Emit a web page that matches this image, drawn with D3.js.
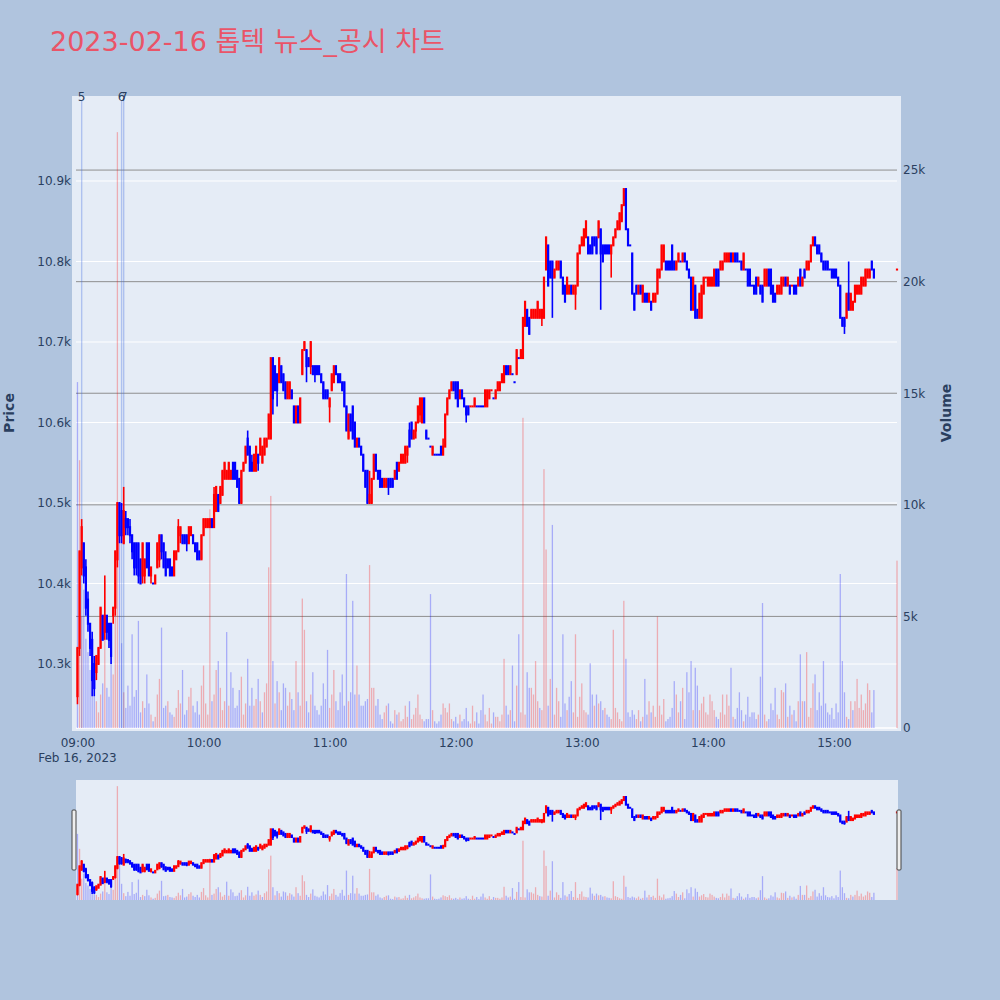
<!DOCTYPE html>
<html><head><meta charset="utf-8">
<script src="https://cdn.jsdelivr.net/npm/d3@7"></script>
<style>body{margin:0;background:#b0c4de;}svg{display:block}</style>
</head><body><svg id="c" width="1000" height="1000"></svg>
<script>
// ---------------- DATA ----------------
const chartTitle = "2023-02-16 톱텍 뉴스_공시 차트";
const times = [
"09:00","09:01","09:02","09:03","09:04","09:05","09:06","09:07","09:08","09:09","09:10","09:11","09:12","09:13","09:14","09:15","09:16","09:17","09:18","09:19",
"09:20","09:21","09:22","09:23","09:24","09:25","09:26","09:27","09:28","09:29","09:30","09:31","09:32","09:33","09:34","09:35","09:36","09:37","09:38","09:39",
"09:40","09:41","09:42","09:43","09:44","09:45","09:46","09:47","09:48","09:49","09:50","09:51","09:52","09:53","09:54","09:55","09:56","09:57","09:58","09:59",
"10:00","10:01","10:02","10:03","10:04","10:05","10:06","10:07","10:08","10:09","10:10","10:11","10:12","10:13","10:14","10:15","10:16","10:17","10:18","10:19",
"10:20","10:21","10:22","10:23","10:24","10:25","10:26","10:27","10:28","10:29","10:30","10:31","10:32","10:33","10:34","10:35","10:36","10:37","10:38","10:39",
"10:40","10:41","10:42","10:43","10:44","10:45","10:46","10:47","10:48","10:49","10:50","10:51","10:52","10:53","10:54","10:55","10:56","10:57","10:58","10:59",
"11:00","11:01","11:02","11:03","11:04","11:05","11:06","11:07","11:08","11:09","11:10","11:11","11:12","11:13","11:14","11:15","11:16","11:17","11:18","11:19",
"11:20","11:21","11:22","11:23","11:24","11:25","11:26","11:27","11:28","11:29","11:30","11:31","11:32","11:33","11:34","11:35","11:36","11:37","11:38","11:39",
"11:40","11:41","11:42","11:43","11:44","11:45","11:46","11:47","11:48","11:49","11:50","11:51","11:52","11:53","11:54","11:55","11:56","11:57","11:58","11:59",
"12:00","12:01","12:02","12:03","12:04","12:05","12:06","12:07","12:08","12:09","12:10","12:11","12:12","12:13","12:14","12:15","12:16","12:17","12:18","12:19",
"12:20","12:21","12:22","12:23","12:24","12:25","12:26","12:27","12:28","12:29","12:30","12:31","12:32","12:33","12:34","12:35","12:36","12:37","12:38","12:39",
"12:40","12:41","12:42","12:43","12:44","12:45","12:46","12:47","12:48","12:49","12:50","12:51","12:52","12:53","12:54","12:55","12:56","12:57","12:58","12:59",
"13:00","13:01","13:02","13:03","13:04","13:05","13:06","13:07","13:08","13:09","13:10","13:11","13:12","13:13","13:14","13:15","13:16","13:17","13:18","13:19",
"13:20","13:21","13:22","13:23","13:24","13:25","13:26","13:27","13:28","13:29","13:30","13:31","13:32","13:33","13:34","13:35","13:36","13:37","13:38","13:39",
"13:40","13:41","13:42","13:43","13:44","13:45","13:46","13:47","13:48","13:49","13:50","13:51","13:52","13:53","13:54","13:55","13:56","13:57","13:58","13:59",
"14:00","14:01","14:02","14:03","14:04","14:05","14:06","14:07","14:08","14:09","14:10","14:11","14:12","14:13","14:14","14:15","14:16","14:17","14:18","14:19",
"14:20","14:21","14:22","14:23","14:24","14:25","14:26","14:27","14:28","14:29","14:30","14:31","14:32","14:33","14:34","14:35","14:36","14:37","14:38","14:39",
"14:40","14:41","14:42","14:43","14:44","14:45","14:46","14:47","14:48","14:49","14:50","14:51","14:52","14:53","14:54","14:55","14:56","14:57","14:58","14:59",
"15:00","15:01","15:02","15:03","15:04","15:05","15:06","15:07","15:08","15:09","15:10","15:11","15:12","15:13","15:14","15:15","15:16","15:17","15:18","15:19",
"15:30"];
const open = [
10260,10320,10420,10450,10420,10380,10350,10330,10300,10290,10300,10320,10360,10340,10360,10350,10350,10360,10370,10430,
10500,10490,10450,10480,10480,10470,10460,10450,10450,10450,10430,10410,10410,10450,10450,10410,10400,10400,10420,10430,
10460,10450,10430,10430,10430,10420,10410,10430,10440,10460,10460,10460,10460,10450,10460,10460,10450,10450,10440,10430,
10460,10470,10470,10470,10480,10470,10490,10510,10500,10510,10530,10530,10530,10530,10550,10550,10540,10530,10500,10540,
10550,10580,10570,10550,10540,10540,10560,10560,10550,10560,10570,10580,10580,10680,10670,10660,10650,10670,10660,10650,
10630,10630,10640,10620,10600,10620,10600,10660,10690,10690,10680,10670,10670,10670,10670,10670,10660,10650,10640,10640,
10620,10640,10650,10670,10660,10660,10650,10650,10620,10580,10610,10620,10600,10570,10580,10570,10560,10540,10540,10500,
10500,10530,10560,10540,10540,10530,10520,10520,10530,10530,10530,10530,10550,10540,10550,10550,10550,10560,10590,10600,
10580,10590,10600,10610,10600,10630,10590,10580,10570,10560,10560,10560,10560,10570,10560,10570,10610,10630,10640,10650,
10650,10650,10630,10640,10630,10620,10620,10620,10620,10620,10620,10620,10620,10620,10620,10620,10630,10640,10630,10630,
10640,10640,10650,10650,10670,10670,10660,10660,10650,10660,10680,10680,10680,10720,10740,10730,10730,10730,10730,10730,
10730,10730,10730,10790,10820,10800,10800,10780,10790,10790,10800,10780,10770,10760,10760,10770,10760,10760,10770,10810,
10820,10820,10830,10830,10820,10830,10830,10830,10830,10840,10820,10820,10820,10820,10810,10820,10830,10840,10840,10850,
10870,10890,10840,10820,10810,10760,10770,10760,10770,10750,10760,10760,10750,10750,10750,10750,10760,10780,10790,10800,
10800,10800,10800,10820,10800,10790,10800,10800,10800,10810,10800,10790,10780,10740,10770,10740,10730,10730,10760,10780,
10770,10770,10770,10770,10790,10790,10790,10790,10800,10800,10800,10810,10800,10810,10810,10800,10800,10790,10790,10790,
10790,10770,10770,10780,10770,10770,10770,10770,10770,10790,10790,10770,10760,10760,10760,10760,10770,10780,10770,10770,
10770,10770,10770,10770,10790,10770,10790,10790,10790,10800,10820,10830,10820,10820,10810,10800,10800,10800,10790,10790,
10790,10790,10780,10770,10730,10730,10730,10760,10740,10740,10750,10760,10760,10760,10770,10770,10780,10780,10800,10790,
10790];
const high = [
10320,10440,10480,10450,10430,10390,10350,10340,10310,10310,10320,10370,10360,10410,10360,10350,10350,10370,10440,10500,
10500,10500,10520,10490,10480,10480,10460,10450,10450,10450,10430,10450,10430,10450,10450,10420,10400,10410,10450,10460,
10460,10450,10440,10430,10430,10420,10440,10440,10480,10470,10460,10460,10460,10470,10470,10460,10450,10450,10440,10460,
10480,10480,10480,10480,10480,10520,10520,10510,10520,10540,10550,10540,10550,10540,10550,10550,10540,10530,10540,10550,
10570,10590,10570,10560,10560,10570,10560,10580,10570,10580,10580,10610,10680,10680,10670,10660,10680,10670,10660,10650,
10650,10650,10640,10620,10620,10620,10630,10690,10700,10690,10680,10700,10670,10670,10670,10670,10660,10650,10640,10640,
10630,10660,10670,10670,10660,10660,10650,10650,10620,10610,10610,10620,10600,10580,10580,10570,10560,10540,10540,10540,
10530,10560,10560,10540,10540,10530,10530,10530,10530,10530,10530,10540,10550,10550,10560,10560,10570,10570,10600,10600,
10590,10600,10620,10630,10630,10630,10590,10580,10570,10570,10560,10560,10560,10570,10580,10610,10630,10640,10650,10650,
10650,10650,10640,10640,10630,10620,10620,10620,10620,10630,10620,10620,10620,10620,10640,10640,10640,10640,10630,10640,
10650,10650,10660,10670,10670,10670,10670,10660,10650,10690,10680,10690,10730,10750,10740,10730,10740,10740,10740,10750,
10740,10740,10780,10830,10820,10800,10800,10790,10800,10800,10800,10780,10770,10780,10770,10770,10770,10770,10810,10820,
10830,10840,10850,10830,10820,10830,10830,10830,10850,10840,10820,10820,10820,10820,10820,10830,10840,10850,10860,10870,
10890,10890,10840,10820,10810,10760,10770,10770,10770,10770,10760,10760,10760,10750,10760,10760,10790,10790,10820,10820,
10800,10800,10800,10820,10800,10800,10810,10800,10810,10810,10800,10790,10780,10780,10770,10740,10760,10770,10780,10780,
10780,10780,10780,10790,10790,10790,10800,10800,10810,10810,10810,10810,10810,10810,10810,10800,10800,10810,10790,10790,
10790,10770,10770,10780,10780,10770,10770,10790,10790,10790,10790,10770,10760,10770,10770,10780,10780,10780,10780,10770,
10770,10770,10770,10780,10790,10780,10790,10800,10800,10820,10830,10830,10820,10820,10810,10800,10800,10800,10790,10790,
10790,10790,10780,10770,10730,10730,10760,10800,10760,10750,10770,10770,10770,10780,10780,10790,10790,10790,10800,10790,
10790];
const low = [
10250,10310,10410,10400,10360,10340,10310,10260,10260,10280,10300,10320,10330,10330,10330,10320,10300,10350,10360,10420,
10450,10450,10450,10460,10460,10450,10430,10410,10410,10400,10400,10400,10400,10420,10410,10400,10400,10400,10420,10420,
10430,10420,10410,10420,10410,10410,10410,10430,10440,10450,10450,10450,10440,10450,10460,10450,10440,10430,10430,10430,
10460,10470,10470,10470,10470,10470,10490,10490,10500,10510,10530,10530,10530,10530,10530,10530,10520,10500,10500,10540,
10550,10560,10540,10540,10540,10540,10540,10560,10550,10560,10570,10580,10580,10610,10640,10620,10650,10650,10640,10630,
10630,10630,10630,10600,10600,10600,10600,10660,10690,10650,10670,10660,10660,10650,10660,10660,10650,10630,10630,10630,
10600,10640,10650,10660,10650,10650,10640,10620,10590,10580,10590,10580,10570,10570,10570,10560,10540,10520,10500,10500,
10500,10530,10540,10530,10520,10520,10520,10520,10510,10520,10520,10530,10530,10540,10550,10550,10550,10550,10570,10580,
10580,10580,10600,10600,10600,10600,10580,10580,10570,10560,10560,10560,10560,10560,10560,10570,10610,10630,10640,10640,
10630,10620,10630,10630,10620,10600,10610,10620,10620,10620,10620,10620,10620,10620,10620,10620,10630,10640,10630,10630,
10640,10640,10650,10650,10660,10660,10660,10660,10650,10660,10680,10680,10680,10720,10720,10710,10730,10730,10730,10730,
10730,10720,10730,10790,10770,10780,10730,10780,10790,10790,10780,10760,10750,10760,10760,10760,10760,10740,10770,10810,
10820,10820,10830,10810,10810,10810,10820,10810,10830,10740,10800,10810,10810,10810,10780,10820,10830,10840,10840,10850,
10870,10840,10820,10820,10760,10740,10760,10760,10760,10750,10750,10750,10750,10740,10750,10750,10760,10780,10790,10800,
10790,10790,10790,10790,10790,10790,10800,10800,10800,10800,10790,10780,10740,10740,10730,10730,10730,10730,10760,10780,
10770,10770,10770,10770,10770,10770,10790,10790,10800,10800,10800,10800,10800,10800,10800,10800,10790,10790,10790,10770,
10770,10770,10760,10760,10770,10760,10750,10770,10770,10770,10760,10750,10750,10760,10760,10760,10770,10770,10770,10760,
10770,10760,10760,10770,10770,10770,10780,10790,10790,10800,10820,10820,10810,10810,10800,10790,10790,10790,10790,10780,
10780,10780,10770,10730,10720,10710,10730,10740,10740,10740,10750,10760,10760,10760,10770,10770,10780,10780,10790,10780,
10790];
const close = [
10320,10440,10470,10410,10370,10350,10320,10280,10270,10310,10320,10370,10330,10360,10340,10330,10310,10370,10440,10500,
10460,10460,10490,10470,10470,10460,10440,10420,10420,10410,10400,10450,10430,10420,10410,10420,10400,10410,10450,10460,
10440,10420,10410,10420,10410,10410,10440,10440,10470,10470,10450,10450,10450,10470,10470,10450,10440,10430,10430,10460,
10480,10480,10480,10480,10470,10510,10520,10490,10520,10540,10550,10540,10550,10540,10530,10530,10520,10500,10540,10550,
10570,10560,10540,10540,10560,10570,10550,10580,10570,10580,10580,10610,10680,10630,10640,10640,10680,10650,10640,10630,
10650,10650,10630,10600,10620,10600,10630,10690,10700,10670,10670,10700,10660,10660,10660,10660,10650,10630,10630,10630,
10630,10660,10670,10660,10650,10650,10640,10620,10590,10610,10590,10580,10570,10580,10570,10560,10540,10520,10500,10510,
10530,10560,10540,10530,10520,10520,10530,10530,10520,10520,10520,10540,10530,10550,10560,10560,10570,10570,10570,10580,
10590,10600,10620,10630,10630,10600,10580,10580,10570,10570,10560,10560,10560,10560,10570,10610,10630,10640,10650,10640,
10630,10620,10640,10630,10620,10610,10610,10620,10620,10630,10620,10620,10620,10620,10640,10640,10640,10640,10630,10640,
10650,10650,10660,10670,10660,10660,10670,10660,10650,10690,10680,10690,10730,10750,10720,10710,10740,10740,10740,10750,
10740,10740,10780,10830,10770,10780,10780,10790,10800,10800,10780,10760,10750,10780,10770,10760,10770,10770,10810,10820,
10830,10840,10850,10810,10810,10810,10820,10810,10850,10810,10800,10810,10810,10810,10820,10830,10840,10850,10860,10870,
10890,10840,10820,10820,10760,10740,10760,10770,10760,10770,10750,10750,10760,10740,10760,10760,10790,10790,10820,10820,
10790,10790,10790,10790,10790,10800,10810,10800,10810,10800,10790,10780,10740,10780,10730,10730,10760,10770,10780,10780,
10780,10780,10780,10790,10770,10770,10800,10800,10810,10810,10810,10800,10810,10800,10800,10800,10790,10810,10790,10770,
10770,10770,10760,10760,10780,10760,10750,10790,10790,10770,10760,10750,10750,10770,10770,10780,10780,10770,10780,10760,
10770,10760,10760,10780,10770,10780,10780,10800,10800,10820,10830,10820,10810,10810,10800,10790,10790,10790,10790,10780,
10780,10780,10770,10730,10720,10720,10760,10740,10760,10750,10770,10770,10770,10780,10780,10790,10790,10790,10790,10780,
10790];
const volume = [
15500,12000,5000,6200,4000,3400,2600,3000,2400,1200,700,1500,2000,6600,1800,1400,4700,2400,6000,26700,
9000,3800,1600,900,1900,1000,4200,1400,1700,4800,700,1200,900,2400,1100,600,300,500,1500,2200,
4500,900,1000,1200,700,600,500,900,1700,1100,2600,600,800,1400,1800,1000,700,1200,600,1900,
2800,1100,600,9800,1200,1500,2600,3000,1800,800,1200,4300,1000,2500,1800,900,1000,1700,2300,600,
1100,3100,1000,1800,1000,1300,2200,1200,700,1600,2000,7200,10400,3000,1100,2100,1600,800,2000,1800,
1000,1600,1300,800,3000,1600,1000,5800,4400,1200,700,1500,2500,1000,800,600,1000,2000,1300,3500,
900,1500,2600,1200,800,1600,2400,1000,6900,1200,1600,5700,1500,2800,1500,1000,1000,1200,1300,7300,
1800,1800,1000,1300,600,400,700,1000,1100,300,200,800,600,700,300,400,1000,500,1200,400,
600,900,1500,600,400,300,400,400,6000,800,300,200,300,600,1100,900,700,1100,400,300,
500,200,600,300,400,900,300,200,1000,300,700,200,800,1500,600,300,900,200,700,500,
500,300,600,3100,1000,600,800,2800,300,1900,4200,700,13900,600,2500,1800,1800,1500,3000,1200,
900,800,11600,8000,1000,2200,9100,600,1800,1200,500,4200,1100,800,1400,2100,700,4200,500,1400,
2000,800,700,600,2900,1500,1000,1500,1100,1200,800,900,600,500,400,4400,900,700,400,300,
5700,3100,700,500,800,600,400,800,300,500,2200,600,1200,700,1000,500,5000,1000,600,1300,
300,400,500,900,2100,1500,700,1200,1800,400,2500,1600,3000,800,2700,1900,800,1100,1400,700,
600,1500,1200,800,500,400,700,1500,600,1500,1000,2700,500,400,900,1600,800,300,600,1400,
500,700,700,400,600,2300,5600,600,300,400,1100,800,1800,600,400,1700,1600,2000,500,1000,
600,800,300,1200,3300,1200,1200,3400,500,900,2000,2400,800,1600,1000,3000,1100,700,600,900,
400,1100,700,6900,3000,1600,500,400,1200,800,1200,2200,900,1500,800,1100,2000,1700,700,1700,
7500];
const newsTimes = ["09:02","09:21","09:22"];
const newsLabels = ["5","6","7"];
const priceTicks = [10300,10400,10500,10600,10700,10800,10900];
const volumeTicks = [0,5000,10000,15000,20000,25000];
const timeTicks = ["09:00","10:00","11:00","12:00","13:00","14:00","15:00"];
const dateLabel = "Feb 16, 2023";
const priceRange = [10220.5, 11000.6];
const volumeRange = [0, 28140];
const timeRange = ["08:59:18","15:30:00"];

// ---------------- DRAW ----------------
const FONT = "'DejaVu Sans','Noto Sans CJK KR',sans-serif";
const UP = "#ff0000", DOWN = "#0000ff";
const parseT = s => { const p = s.split(":").map(Number); return new Date(2023,1,16,p[0],p[1],p[2]||0); };
const svg = d3.select("#c");
svg.append("rect").attr("width",1000).attr("height",1000).attr("fill","#b0c4de");

const rows = times.map((t,i)=>({t:parseT(t),o:open[i],h:high[i],l:low[i],c:close[i],v:volume[i]}));
// plotly-style direction (ties use previous close)
let cPrev=null, dirPrev=false;
rows.forEach(d=>{
  let up;
  if(d.o===d.c){ if(cPrev!==null && d.c>cPrev) up=true; else if(cPrev!==null && d.c<cPrev) up=false; else up=dirPrev; }
  else up = d.c>d.o;
  d.up=up; dirPrev=up; cPrev=d.c;
});
rows.forEach((d,i)=>{
  if(i===0) d.vup=false;
  else { const pc=rows[i-1].c; d.vup = d.c>pc ? true : (d.c<pc ? false : d.up); }
});

const L=76, R=897, T=100, B=728;
const x = d3.scaleTime().domain(timeRange.map(parseT)).range([L,R]);
const yP = d3.scaleLinear().domain(priceRange).range([B,T]);
const yV = d3.scaleLinear().domain(volumeRange).range([B,T]);

// title
svg.append("text").attr("x",50).attr("y",50.5).attr("font-family",FONT).attr("font-size",27)
  .attr("fill","#ea5468").text(chartTitle);

// plot background
svg.append("rect").attr("x",72).attr("y",96).attr("width",829).attr("height",635).attr("fill","#e5ecf6");
svg.append("defs").append("clipPath").attr("id","clip").append("rect")
  .attr("x",72).attr("y",96).attr("width",829).attr("height",635);

const g = svg.append("g").attr("clip-path","url(#clip)");
g.selectAll(".pg").data(priceTicks).join("line").attr("x1",L).attr("x2",R)
  .attr("y1",d=>yP(d)).attr("y2",d=>yP(d)).attr("stroke","#fff").attr("stroke-width",1);
g.selectAll(".vg").data(volumeTicks.filter(v=>v>0)).join("line").attr("x1",L).attr("x2",R)
  .attr("y1",d=>yV(d)).attr("y2",d=>yV(d)).attr("stroke","#8f8f8f").attr("stroke-width",1);
g.append("line").attr("x1",L).attr("x2",R).attr("y1",yV(0)).attr("y2",yV(0)).attr("stroke","#fff").attr("stroke-width",1.5);

function drawVolume(grp, ys, bw){
  grp.selectAll(null).data(rows).join("rect")
    .attr("x",d=>x(d.t)-bw/2).attr("width",bw)
    .attr("y",d=>ys(d.v)).attr("height",d=>ys(0)-ys(d.v))
    .attr("fill",d=>d.vup?UP:DOWN).attr("fill-opacity",0.27);
}
function drawCandles(grp, ys, bodyW, wickW){
  const cg = grp.selectAll(null).data(rows).join("g").attr("fill",d=>d.up?UP:DOWN).attr("stroke",d=>d.up?UP:DOWN);
  cg.append("line").attr("x1",d=>x(d.t)).attr("x2",d=>x(d.t))
    .attr("y1",d=>ys(d.h)).attr("y2",d=>ys(d.l)).attr("stroke-width",wickW);
  cg.append("rect").attr("stroke","none")
    .attr("x",d=>x(d.t)-bodyW/2).attr("width",bodyW)
    .attr("y",d=>Math.min(ys(d.o),ys(d.c))-1)
    .attr("height",d=>Math.abs(ys(d.o)-ys(d.c))+2);
}
drawVolume(g, yV, 1.3);
const nt = newsTimes.map(parseT);
g.selectAll(".nl").data(nt).join("line").attr("x1",d=>x(d)).attr("x2",d=>x(d))
  .attr("y1",T).attr("y2",B).attr("stroke","rgba(65,105,225,0.33)").attr("stroke-width",1.4);
drawCandles(g, yP, 2.2, 1.6);
svg.selectAll(".nt").data(nt).join("text").attr("x",d=>x(d)).attr("y",101)
  .attr("text-anchor","middle").attr("font-family",FONT).attr("font-size",12).attr("fill","#2a3f5f")
  .text((d,i)=>newsLabels[i]);

// axes
function styleAxis(a){ a.select(".domain").remove(); a.selectAll("line").remove();
  a.selectAll("text").attr("font-family",FONT).attr("font-size",12).attr("fill","#2a3f5f"); }
svg.append("g").attr("transform",`translate(${L},0)`)
  .call(d3.axisLeft(yP).tickValues(priceTicks).tickFormat(d3.format(".3~s")).tickSize(0).tickPadding(5)).call(styleAxis);
svg.append("g").attr("transform",`translate(${R},0)`)
  .call(d3.axisRight(yV).tickValues(volumeTicks).tickFormat(d3.format("~s")).tickSize(0).tickPadding(6)).call(styleAxis);
svg.append("g").attr("transform",`translate(0,${B})`)
  .call(d3.axisBottom(x).tickValues(timeTicks.map(parseT)).tickFormat(d3.timeFormat("%H:%M")).tickSize(0).tickPadding(10.5)).call(styleAxis);
svg.append("text").attr("x",x(parseT(timeTicks[0]))).attr("y",762).attr("text-anchor","middle")
  .attr("font-family",FONT).attr("font-size",12).attr("fill","#2a3f5f").text(dateLabel);

svg.append("text").attr("transform","translate(14,413) rotate(-90)").attr("text-anchor","middle")
  .attr("font-family",FONT).attr("font-size",14).attr("font-weight","bold").attr("fill","#2a3f5f").text("Price");
svg.append("text").attr("transform","translate(951,413) rotate(-90)").attr("text-anchor","middle")
  .attr("font-family",FONT).attr("font-size",14).attr("font-weight","bold").attr("fill","#2a3f5f").text("Volume");

// range slider
const sT=780, sB=900;
svg.append("rect").attr("x",L).attr("y",sT).attr("width",R+1-L).attr("height",sB-sT).attr("fill","#e5ecf6");
const ysP = d3.scaleLinear().domain(priceRange).range([sB,sT]);
const ysV = d3.scaleLinear().domain(volumeRange).range([sB,sT]);
const sg = svg.append("g");
drawVolume(sg, ysV, 1.3);
drawCandles(sg, ysP, 2.2, 1.6);
[L-2, R+2].forEach(hx=>{
  svg.append("rect").attr("x",hx-2).attr("y",810).attr("width",4).attr("height",60).attr("rx",1)
    .attr("fill","#eeeeee").attr("stroke","#444").attr("stroke-width",1);
});
</script></body></html>
